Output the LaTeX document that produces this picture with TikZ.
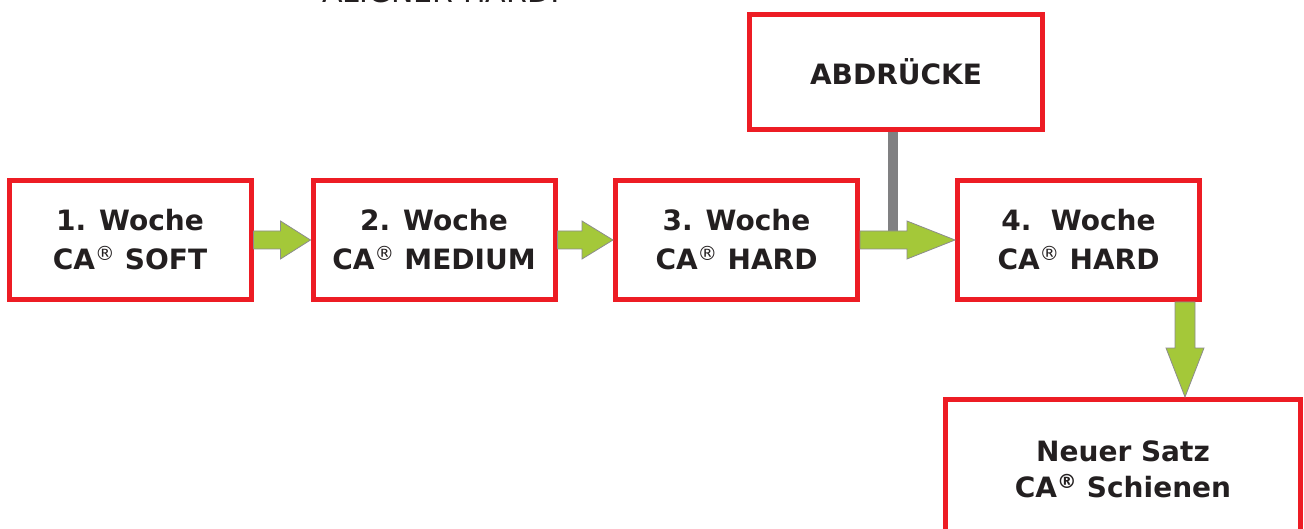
\documentclass[tikz,border=0pt]{standalone}
\usepackage{fontspec}
\setmainfont{DejaVu Sans}
\usetikzlibrary{calc}
\definecolor{boxred}{RGB}{237,28,36}
\definecolor{arrowgreen}{RGB}{164,200,57}
\definecolor{arrowline}{RGB}{140,140,140}
\definecolor{bargray}{RGB}{128,128,130}
\definecolor{textdark}{RGB}{35,31,32}
\newcommand\regmark{\textsuperscript{\mdseries ®}}
\newcommand\weekarrow[3]{%
  \draw[greenarrow] let \p1=(#1.east), \p2=(#2.west) in
    (\x1,\y1+9pt) -- (\x2-#3,\y1+9pt) -- (\x2-#3,\y1+19pt) -- (\x2,\y1)
    -- (\x2-#3,\y1-19pt) -- (\x2-#3,\y1-9pt) -- (\x1,\y1-9pt) -- cycle;}
\begin{document}
\begin{tikzpicture}[x=1pt,y=-1pt,
		week/.style={draw=boxred,line width=5pt,minimum width=242pt,minimum height=119pt,
			inner sep=0pt,align=center,text=textdark,font=\fontsize{28}{39}\selectfont\bfseries},
		greenarrow/.style={fill=arrowgreen,draw=arrowline,line width=0.8pt},
		bar/.style={draw=bargray,line width=10pt}]
			\useasboundingbox (0,0) rectangle (1304,529);
			\node[anchor=base,text=textdark,font=\fontsize{30}{36}\selectfont] (title) at (441,3) {ALIGNER HARD.};
			\node[week] (w1) at (130,240) {1. Woche\\CA\regmark{} SOFT};
			\node[week] (w2) at (434,240) {2. Woche\\CA\regmark{} MEDIUM};
			\node[week] (w3) at (736.5,240) {3. Woche\\CA\regmark{} HARD};
			\node[week] (w4) at (1078.5,240) {4.~~Woche\\CA\regmark{} HARD};
			\node[week,minimum width=293pt,minimum height=115pt] (abd) at (896,72) {ABDRÜCKE};
			\node[week,minimum width=355pt,minimum height=139pt,font=\fontsize{28}{36}\selectfont\bfseries] (newset) at (1123,469) {Neuer Satz\\CA\textsuperscript{®} Schienen};
			\coordinate (bartop) at ([xshift=-3pt]abd.south);
			\draw[bar] (bartop) -- (bartop |- w3.east);
			\weekarrow{w1}{w2}{30pt}
			\weekarrow{w2}{w3}{31pt}
			\weekarrow{w3}{w4}{48pt}
			\draw[greenarrow] let \p1=(w4.south east), \p2=(newset.north) in
				(\x1-27pt,\y1) -- (\x1-7pt,\y1) -- (\x1-7pt,\y2+49pt) -- (\x1+2pt,\y2+49pt)
				-- (\x1-17pt,\y2) -- (\x1-36pt,\y2+49pt) -- (\x1-27pt,\y2+49pt) -- cycle;
		\end{tikzpicture}
\end{document}
